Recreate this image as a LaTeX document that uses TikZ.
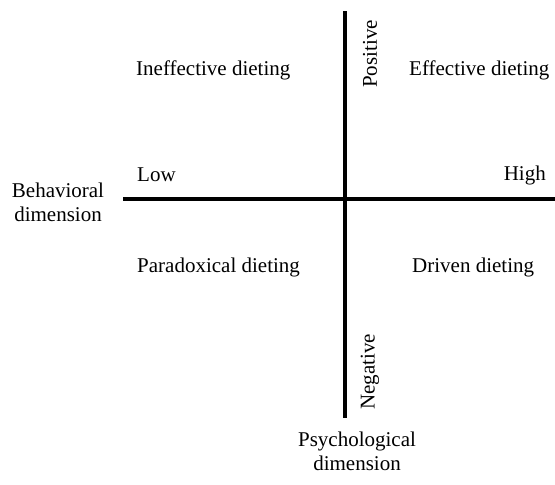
\documentclass[tikz,border=0pt]{standalone}
\usepackage{fontspec}
\setmainfont{Liberation Serif}
\begin{document}
\begin{tikzpicture}[x=1pt,y=-1pt,
    lbl/.style={inner sep=0pt, font=\fontsize{21}{24}\selectfont},
    axe/.style={line width=3.2pt}]
    % cadre : 555 x 485
    \useasboundingbox (0,0) rectangle (555,485);
    \def\cx{345}
    \def\cy{199}

    % les deux axes
    \coordinate (top) at (\cx,11);
    \coordinate (bot) at (\cx,418);
    \coordinate (left) at (123,\cy);
    \coordinate (right) at (555,\cy);
    \draw[axe] (top) -- (bot);
    \draw[axe] (left) -- (right);

    % quadrants
    \node[lbl, anchor=west] (ineff) at (136,70) {Ineffective dieting};
    \node[lbl, anchor=west] (eff) at (409,70) {Effective dieting};
    \node[lbl, anchor=west] (parad) at (137,267) {Paradoxical dieting};
    \node[lbl, anchor=west] (driven) at (412,267) {Driven dieting};

    % axe horizontal
    \node[lbl, anchor=west] (low) at (137,175) {Low};
    \node[lbl, anchor=east] (high) at (546,175) {High};
    \node[lbl, align=center] (behav) at (58,202) {Behavioral\\dimension};

    % axe vertical
    \node[lbl, rotate=90] (pos) at (370,54) {Positive};
    \node[lbl, rotate=90] (neg) at (370,372) {Negative};
    \node[lbl, align=center] (psych) at (357,451) {Psychological\\dimension};
\end{tikzpicture}
\end{document}
